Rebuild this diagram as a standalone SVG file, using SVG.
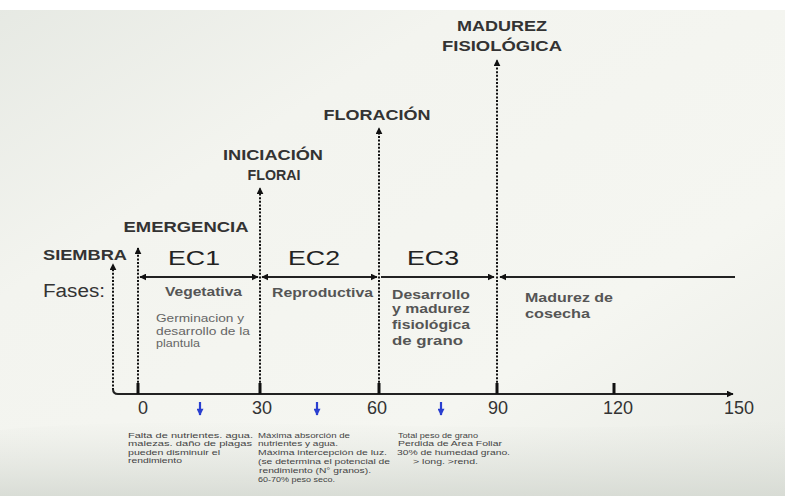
<svg xmlns="http://www.w3.org/2000/svg" width="785" height="496" viewBox="0 0 785 496">
<defs>
<linearGradient id="bg" x1="0" y1="0" x2="1" y2="1">
<stop offset="0" stop-color="#e6e9e3"/>
<stop offset="0.3" stop-color="#f3f4ef"/>
<stop offset="0.7" stop-color="#f5f6f1"/>
<stop offset="1" stop-color="#e9ebe5"/>
</linearGradient>
<linearGradient id="bot" x1="0" y1="0" x2="0" y2="1">
<stop offset="0" stop-color="#dfe2dc" stop-opacity="0"/>
<stop offset="1" stop-color="#d6dad3" stop-opacity="0.9"/>
</linearGradient>
<marker id="ah" viewBox="0 0 10 10" refX="9" refY="5" markerWidth="7" markerHeight="7" markerUnits="userSpaceOnUse" orient="auto-start-reverse">
<path d="M0,0 L10,5 L0,10 z" fill="#111"/>
</marker>
<marker id="ahb" viewBox="0 0 10 10" refX="9" refY="5" markerWidth="8" markerHeight="7" markerUnits="userSpaceOnUse" orient="auto">
<path d="M0,0 L10,5 L0,10 z" fill="#2a3fd0"/>
</marker>
<style>
.dot{stroke:#111;stroke-width:2;stroke-dasharray:2 1.6;fill:none}
.ln{stroke:#222;stroke-width:2;fill:none}
.tick{stroke:#111;stroke-width:3}
.h{font-family:"Liberation Sans",Arial,sans-serif;font-weight:bold;font-size:15px;fill:#333;text-anchor:middle}
.ec{font-family:"Liberation Sans",Arial,sans-serif;font-size:21px;fill:#222;text-anchor:middle}
.ph{font-family:"Liberation Sans",Arial,sans-serif;font-weight:bold;font-size:12px;fill:#555}
.sm{font-family:"Liberation Sans",Arial,sans-serif;font-size:11px;fill:#666}
.num{font-family:"Liberation Sans",Arial,sans-serif;font-size:18px;fill:#333;text-anchor:middle}
.tiny{font-family:"Liberation Sans",Arial,sans-serif;font-size:7.5px;fill:#444}
.blue{stroke:#2a3fd0;stroke-width:2.2}
</style>
</defs>
<rect width="785" height="496" fill="url(#bg)"/>
<path d="M0,430 C200,410 500,440 785,420 L785,496 L0,496 z" fill="url(#bot)"/>
<rect width="785" height="10" fill="#ffffff"/>

<g id="connectors">
<path class="dot" d="M113,390 L113,264" marker-end="url(#ah)"/>
<path class="dot" d="M138,390 L138,248" marker-end="url(#ah)"/>
<path class="dot" d="M260,390 L260,188" marker-end="url(#ah)"/>
<path class="dot" d="M379,390 L379,128" marker-end="url(#ah)"/>
<path class="dot" d="M497,390 L497,60" marker-end="url(#ah)"/>
<path class="ln" d="M113,389 Q113,394 118,394 L733,394" marker-end="url(#ah)"/>
<line class="tick" x1="138" y1="383" x2="138" y2="394"/>
<line class="tick" x1="260" y1="383" x2="260" y2="394"/>
<line class="tick" x1="379" y1="383" x2="379" y2="394"/>
<line class="tick" x1="497" y1="383" x2="497" y2="394"/>
<line class="tick" x1="614" y1="383" x2="614" y2="394"/>
<path class="ln" d="M140,277 L258,277" marker-start="url(#ah)" marker-end="url(#ah)"/>
<path class="ln" d="M262,277 L377,277" marker-start="url(#ah)" marker-end="url(#ah)"/>
<path class="ln" d="M381,277 L494,277" marker-end="url(#ah)"/>
<path class="ln" d="M500,277 L735,277" marker-start="url(#ah)"/>
<line class="blue" x1="200" y1="402" x2="200" y2="415" marker-end="url(#ahb)"/>
<line class="blue" x1="317" y1="402" x2="317" y2="415" marker-end="url(#ahb)"/>
<line class="blue" x1="441" y1="402" x2="441" y2="415" marker-end="url(#ahb)"/>
</g>

<g id="madurez-fisiologica">
<text class="h" x="502" y="31" textLength="90" lengthAdjust="spacingAndGlyphs">MADUREZ</text>
<text class="h" x="502" y="51" textLength="120" lengthAdjust="spacingAndGlyphs">FISIOLÓGICA</text>
</g>
<g id="floracion">
<text class="h" x="377" y="120" textLength="107" lengthAdjust="spacingAndGlyphs">FLORACIÓN</text>
</g>
<g id="iniciacion-floral">
<text class="h" x="273" y="160" textLength="100" lengthAdjust="spacingAndGlyphs">INICIACIÓN</text>
<text class="h" x="274" y="180" textLength="53" lengthAdjust="spacingAndGlyphs">FLORAI</text>
</g>
<g id="emergencia">
<text class="h" x="186" y="232" textLength="125" lengthAdjust="spacingAndGlyphs">EMERGENCIA</text>
</g>
<g id="siembra">
<text class="h" x="85" y="260" textLength="84" lengthAdjust="spacingAndGlyphs">SIEMBRA</text>
</g>

<g id="ec1">
<text class="ec" x="194" y="265" textLength="52" lengthAdjust="spacingAndGlyphs">EC1</text>
<text class="ph" x="165" y="296" textLength="77" lengthAdjust="spacingAndGlyphs">Vegetativa</text>
<text class="sm" x="156" y="322" textLength="88" lengthAdjust="spacingAndGlyphs">Germinacion y</text>
<text class="sm" x="156" y="335" textLength="94" lengthAdjust="spacingAndGlyphs">desarrollo de la</text>
<text class="sm" x="156" y="347" textLength="44" lengthAdjust="spacingAndGlyphs">plantula</text>
</g>
<g id="ec2">
<text class="ec" x="314" y="265" textLength="52" lengthAdjust="spacingAndGlyphs">EC2</text>
<text class="ph" x="272" y="297" textLength="101" lengthAdjust="spacingAndGlyphs">Reproductiva</text>
</g>
<g id="ec3">
<text class="ec" x="433" y="265" textLength="52" lengthAdjust="spacingAndGlyphs">EC3</text>
<text class="ph" x="392" y="299" textLength="78" lengthAdjust="spacingAndGlyphs">Desarrollo</text>
<text class="ph" x="392" y="313" textLength="78" lengthAdjust="spacingAndGlyphs">y madurez</text>
<text class="ph" x="392" y="329" textLength="78" lengthAdjust="spacingAndGlyphs">fisiológica</text>
<text class="ph" x="392" y="345" textLength="71" lengthAdjust="spacingAndGlyphs">de grano</text>
</g>
<g id="madurez-cosecha">
<text class="ph" x="525" y="302" textLength="88" lengthAdjust="spacingAndGlyphs">Madurez de</text>
<text class="ph" x="525" y="318" textLength="65" lengthAdjust="spacingAndGlyphs">cosecha</text>
</g>
<g id="fases">
<text x="43" y="297" font-family="'Liberation Sans',Arial,sans-serif" font-size="18" fill="#333" textLength="62" lengthAdjust="spacingAndGlyphs">Fases:</text>
</g>

<g id="axis-labels">
<text class="num" x="143" y="414">0</text>
<text class="num" x="262" y="414">30</text>
<text class="num" x="377" y="414">60</text>
<text class="num" x="498" y="414">90</text>
<text class="num" x="618" y="414">120</text>
<text class="num" x="739" y="414">150</text>
</g>

<g id="note1">
<text class="tiny" x="128" y="438" textLength="125" lengthAdjust="spacingAndGlyphs">Falta de nutrientes. agua.</text>
<text class="tiny" x="128" y="446" textLength="124" lengthAdjust="spacingAndGlyphs">malezas. daño de plagas</text>
<text class="tiny" x="128" y="455" textLength="92" lengthAdjust="spacingAndGlyphs">pueden disminuir el</text>
<text class="tiny" x="128" y="463" textLength="54" lengthAdjust="spacingAndGlyphs">rendimiento</text>
</g>
<g id="note2">
<text class="tiny" x="258" y="438" textLength="92" lengthAdjust="spacingAndGlyphs">Máxima absorción de</text>
<text class="tiny" x="258" y="446" textLength="80" lengthAdjust="spacingAndGlyphs">nutrientes y agua.</text>
<text class="tiny" x="258" y="455" textLength="129" lengthAdjust="spacingAndGlyphs">Máxima intercepción de luz.</text>
<text class="tiny" x="258" y="464" textLength="132" lengthAdjust="spacingAndGlyphs">(se determina el potencial de</text>
<text class="tiny" x="259" y="473" textLength="112" lengthAdjust="spacingAndGlyphs">rendimiento (N° granos).</text>
<text class="tiny" x="258" y="482" textLength="77" lengthAdjust="spacingAndGlyphs">60-70% peso seco.</text>
</g>
<g id="note3">
<text class="tiny" x="398" y="438" textLength="80" lengthAdjust="spacingAndGlyphs">Total peso de grano</text>
<text class="tiny" x="398" y="446" textLength="104" lengthAdjust="spacingAndGlyphs">Perdida de Area Foliar</text>
<text class="tiny" x="397" y="455" textLength="113" lengthAdjust="spacingAndGlyphs">30% de humedad grano.</text>
<text class="tiny" x="413" y="464" textLength="65" lengthAdjust="spacingAndGlyphs">&gt; long. &gt;rend.</text>
</g>
</svg>
